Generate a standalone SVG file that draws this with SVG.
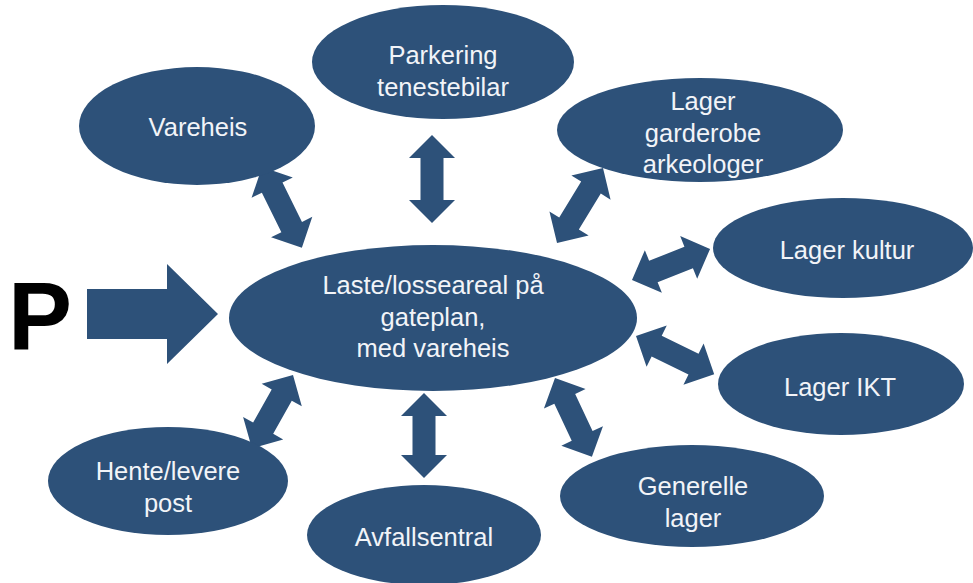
<svg xmlns="http://www.w3.org/2000/svg" width="973" height="583" viewBox="0 0 973 583">
<style>
.n{fill:#2D5179;}
.a{fill:#2D5179;}
.t{font-family:"Liberation Sans",Arial,sans-serif;font-size:25.5px;fill:#F2F4F8;text-anchor:middle;}
</style>
<rect width="973" height="583" fill="#FFFFFF"/>
<g id="connectors">
<polygon class="a" transform="translate(262,167) rotate(63.7)" points="0,0 23,-23 23,-11.5 67,-11.5 67,-23 90,0 67,23 67,11.5 23,11.5 23,23"/>
<polygon class="a" transform="translate(432,135) rotate(90)" points="0,0 23,-23 23,-11.5 65,-11.5 65,-23 88,0 65,23 65,11.5 23,11.5 23,23"/>
<polygon class="a" transform="translate(603,168) rotate(121.5)" points="0,0 23,-23 23,-11.5 65,-11.5 65,-23 88,0 65,23 65,11.5 23,11.5 23,23"/>
<polygon class="a" transform="translate(632,280) rotate(-21.7)" points="0,0 23,-23 23,-11.5 61,-11.5 61,-23 84,0 61,23 61,11.5 23,11.5 23,23"/>
<polygon class="a" transform="translate(636,336) rotate(26)" points="0,0 23,-23 23,-11.5 64,-11.5 64,-23 87,0 64,23 64,11.5 23,11.5 23,23"/>
<polygon class="a" transform="translate(555,378) rotate(64.9)" points="0,0 23,-23 23,-11.5 64,-11.5 64,-23 87,0 64,23 64,11.5 23,11.5 23,23"/>
<polygon class="a" transform="translate(424,393) rotate(90)" points="0,0 23,-23 23,-11.5 62,-11.5 62,-23 85,0 62,23 62,11.5 23,11.5 23,23"/>
<polygon class="a" transform="translate(293,375) rotate(119.3)" points="0,0 23,-23 23,-11.5 61,-11.5 61,-23 84,0 61,23 61,11.5 23,11.5 23,23"/>
<polygon class="a" points="87,289 167,289 167,264 218,314 167,364 167,339 87,339"/>
</g>
<text x="40" y="349" font-family="Liberation Sans,Arial,sans-serif" font-weight="bold" font-size="96" text-anchor="middle" fill="#000000">P</text>
<g id="center">
<ellipse class="n" cx="433" cy="318" rx="204" ry="73"/>
<text class="t" x="433" y="294">Laste/losseareal på</text>
<text class="t" x="433" y="326">gateplan,</text>
<text class="t" x="433" y="357">med vareheis</text>
</g>
<g id="parkering">
<ellipse class="n" cx="443" cy="62" rx="131" ry="57"/>
<text class="t" x="443" y="64">Parkering</text>
<text class="t" x="443" y="96">tenestebilar</text>
</g>
<g id="vareheis">
<ellipse class="n" cx="197" cy="126" rx="118" ry="59"/>
<text class="t" x="198" y="136">Vareheis</text>
</g>
<g id="garderobe">
<ellipse class="n" cx="700" cy="130" rx="143" ry="52"/>
<text class="t" x="703" y="110">Lager</text>
<text class="t" x="703" y="142">garderobe</text>
<text class="t" x="703" y="173">arkeologer</text>
</g>
<g id="kultur">
<ellipse class="n" cx="843" cy="248" rx="130" ry="50"/>
<text class="t" x="847" y="259">Lager kultur</text>
</g>
<g id="ikt">
<ellipse class="n" cx="841" cy="384" rx="123" ry="51"/>
<text class="t" x="840" y="396">Lager IKT</text>
</g>
<g id="generelle">
<ellipse class="n" cx="692" cy="496" rx="132" ry="51"/>
<text class="t" x="693" y="495">Generelle</text>
<text class="t" x="693" y="527">lager</text>
</g>
<g id="avfall">
<ellipse class="n" cx="424" cy="535" rx="117" ry="50"/>
<text class="t" x="424" y="546">Avfallsentral</text>
</g>
<g id="hente">
<ellipse class="n" cx="168" cy="481" rx="120" ry="54"/>
<text class="t" x="168" y="480">Hente/levere</text>
<text class="t" x="168" y="512">post</text>
</g>
</svg>
